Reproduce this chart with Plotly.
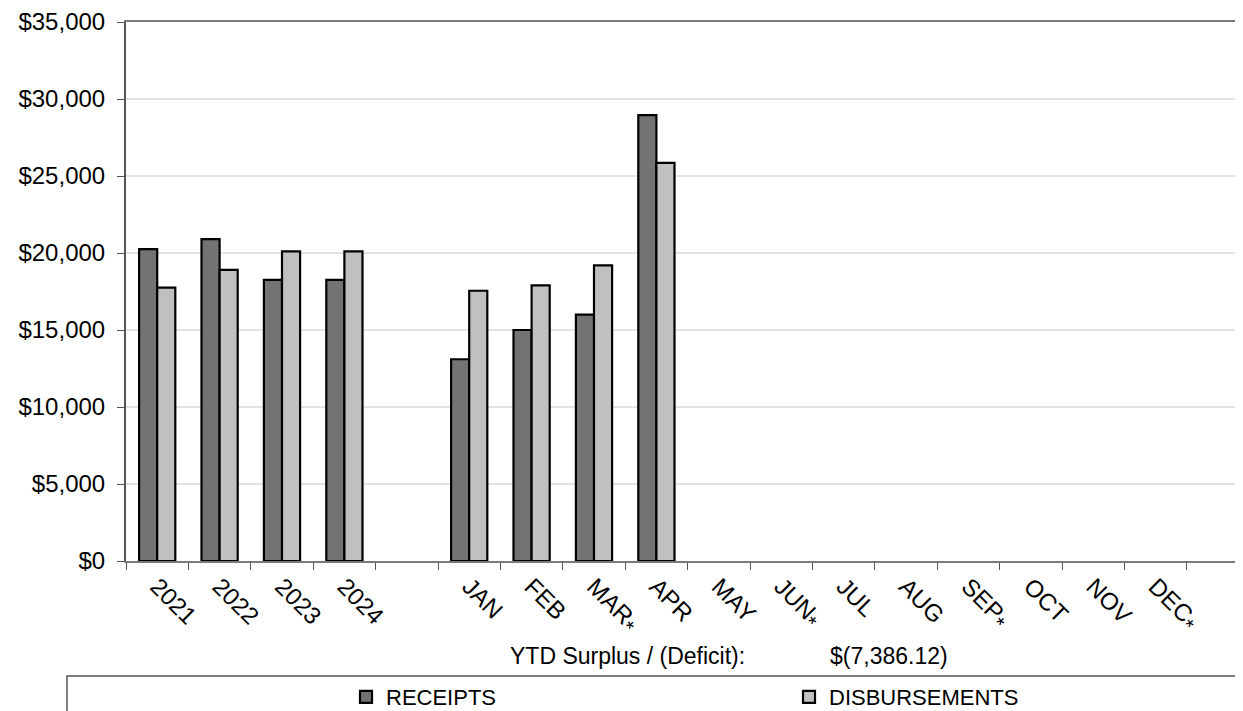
import plotly.graph_objects as go

STAR = "<sub><span style='font-size:21px'>*</span></sub>"
categories = ["2021", "2022", "2023", "2024", " ", "JAN", "FEB", "MAR" + STAR, "APR",
              "MAY", "JUN" + STAR, "JUL", "AUG", "SEP" + STAR, "OCT", "NOV", "DEC" + STAR]
receipts = [20250, 20900, 18250, 18250, None, 13100, 15000, 16000, 28950,
            None, None, None, None, None, None, None, None]
disbursements = [17750, 18900, 20100, 20100, None, 17550, 17900, 19200, 25850,
                 None, None, None, None, None, None, None, None]
ytd_label = "YTD Surplus / (Deficit):"
ytd_value = "$(7,386.12)"
y_ticks = [0, 5000, 10000, 15000, 20000, 25000, 30000, 35000]
y_tick_text = ["$0", "$5,000", "$10,000", "$15,000", "$20,000", "$25,000", "$30,000", "$35,000"]

FONT = "Liberation Sans, Arial, sans-serif"

fig = go.Figure()
fig.add_trace(go.Bar(x=categories, y=receipts, name="RECEIPTS",
                     marker=dict(color="#737373", line=dict(color="#000000", width=2.2))))
fig.add_trace(go.Bar(x=categories, y=disbursements, name="DISBURSEMENTS",
                     marker=dict(color="#c0c0c0", line=dict(color="#000000", width=2.2))))

# page has an 8px body margin; figure sits at (8, 8)
OFF = 8
W, H = 1243 - OFF, 711 - OFF
PLOT_L, PLOT_T, PLOT_B = 126, 22, 561          # page pixel positions of the plot area
L, T = PLOT_L - OFF, PLOT_T - OFF
B = H - (PLOT_B - OFF)
plot_w = W - L
plot_h = H - T - B

def px_x(p):
    return (p - PLOT_L) / plot_w

def px_y(p):
    return (PLOT_B - p) / plot_h

fig.update_layout(
    width=W, height=H,
    margin=dict(l=L, r=0, t=T, b=B, autoexpand=False),
    paper_bgcolor="white", plot_bgcolor="white",
    barmode="group", bargap=0.42, bargroupgap=0,
    font=dict(family=FONT, size=24, color="#000000"),
    showlegend=True,
    legend=dict(orientation="h", x=px_x(346), y=px_y(697), xanchor="left", yanchor="middle",
                font=dict(size=22), entrywidth=398, entrywidthmode="pixels",
                bgcolor="rgba(0,0,0,0)", itemclick=False),
    xaxis=dict(type="category", range=[-0.5, -0.5 + plot_w / 62.4], tickangle=45,
               tickson="boundaries", ticks="outside", ticklen=7, tickcolor="#555555",
               showline=True, linecolor="#7a7a7a", linewidth=2, mirror=True,
               showgrid=False, tickfont=dict(size=24), automargin=False),
    yaxis=dict(range=[0, 35000], tickvals=y_ticks, ticktext=y_tick_text,
               ticks="outside", ticklen=7, tickcolor="#555555",
               showline=True, linecolor="#555555", linewidth=2,
               gridcolor="#e3e3e3", gridwidth=1.5, zeroline=False,
               ticklabelstandoff=7, tickfont=dict(size=24), automargin=False),
    shapes=[dict(type="rect", xref="paper", yref="paper",
                 x0=px_x(67), x1=px_x(1300), y0=px_y(676), y1=px_y(760),
                 line=dict(color="#555555", width=1.5), fillcolor="rgba(0,0,0,0)", layer="below")],
    annotations=[
        dict(text=ytd_label, xref="paper", yref="paper", x=px_x(508), y=px_y(656),
             xanchor="left", yanchor="middle", showarrow=False, font=dict(size=23)),
        dict(text=ytd_value, xref="paper", yref="paper", x=px_x(828), y=px_y(656),
             xanchor="left", yanchor="middle", showarrow=False, font=dict(size=23)),
    ],
)

fig.write_html("out.html")
